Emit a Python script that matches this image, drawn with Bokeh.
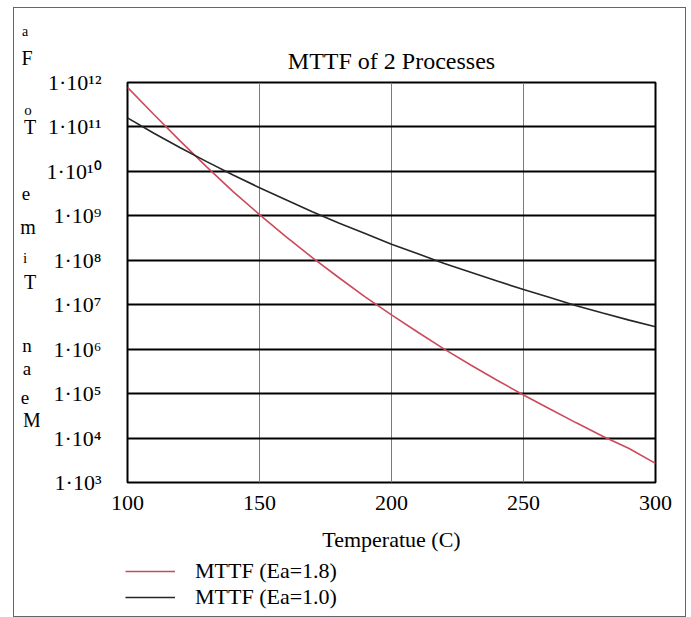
from bokeh.plotting import figure
from bokeh.layouts import row, column
from bokeh.models import (Range1d, FixedTicker, CustomJSTickFormatter, Legend, Div)
from bokeh.embed import file_html
from bokeh.resources import INLINE

# ---- data ----
temperature_c = [100, 110, 120, 130, 140, 150, 160, 170, 180, 190, 200,
                 210, 220, 230, 240, 250, 260, 270, 280, 290, 300]
mttf_ea18 = [7.8e11, 1.9e11, 4.8e10, 1.26e10, 3.5e9, 1.07e9, 3.4e8, 1.15e8,
             4.1e7, 1.5e7, 5.9e6, 2.4e6, 1.0e6, 4.4e5, 2.0e5, 9.3e4, 4.5e4,
             2.2e4, 1.1e4, 5.8e3, 2.7e3]
mttf_ea10 = [1.6e11, 7.2e10, 3.4e10, 1.66e10, 8.3e9, 4.3e9, 2.3e9, 1.23e9,
             6.9e8, 4.0e8, 2.3e8, 1.4e8, 8.5e7, 5.4e7, 3.4e7, 2.2e7, 1.45e7,
             9.5e6, 6.5e6, 4.5e6, 3.2e6]
series_names = ["MTTF (Ea=1.8)", "MTTF (Ea=1.0)"]
x_ticks = [100, 150, 200, 250, 300]
y_ticks = [1e3, 1e4, 1e5, 1e6, 1e7, 1e8, 1e9, 1e10, 1e11, 1e12]
title_text = "MTTF of 2 Processes"
x_label = "Temperatue (C)"
y_label_letters = ["a", "F", "o", "T", "e", "m", "i", "T", "n", "a", "e", "M"]

FONT = "Liberation Serif"
RED = "#cc4a5a"
DARK = "#262626"

# ---- y-label letters, stacked as in the original (layout only) ----
letter_xy = [(11, 24), (13, 50), (14, 102), (16, 119), (12, 185), (14, 219),
             (11, 250), (16, 274), (13, 337), (13, 360), (11, 389), (18, 412)]
letter_px = [14, 20, 15, 20, 19, 20, 15, 20, 19, 19, 19, 20]
spans = "".join(
    f'<span style="position:absolute;left:{lx}px;top:{ly}px;'
    f'transform:translate(-50%,-50%);font-size:{fs}px;">{ch}</span>'
    for ch, (lx, ly), fs in zip(y_label_letters, letter_xy, letter_px))
letters = Div(text=f'<div style="position:relative;width:25px;height:540px;'
                   f'font-family:\'{FONT}\';color:black;line-height:1;">{spans}</div>',
              width=25, height=546, margin=0)

# ---- main figure ----
p = figure(frame_width=528, frame_height=400,
           min_border_left=88, min_border_right=30,
           min_border_top=74, min_border_bottom=72,
           x_range=Range1d(100, 300), y_range=Range1d(1e3, 1e12),
           y_axis_type="log", output_backend="svg", toolbar_location=None,
           title=title_text, margin=0)
p.background_fill_color = "white"
p.border_fill_color = "white"
p.outline_line_color = "black"
p.outline_line_width = 2

p.title.align = "center"
p.title.text_font = FONT
p.title.text_font_style = "normal"
p.title.text_font_size = "24px"
p.title.text_color = "black"
p.title.standoff = 17

p.xaxis.ticker = FixedTicker(ticks=x_ticks)
p.yaxis.ticker = FixedTicker(ticks=y_ticks)
p.yaxis.formatter = CustomJSTickFormatter(code="""
const sup = {"0":"\u2070","1":"\u00b9","2":"\u00b2","3":"\u00b3","4":"\u2074",
             "5":"\u2075","6":"\u2076","7":"\u2077","8":"\u2078","9":"\u2079"};
const e = Math.round(Math.log10(tick));
return "1\u00b710" + String(e).split("").map(c => sup[c]).join("");
""")
for ax in (p.xaxis[0], p.yaxis[0]):
    ax.axis_line_color = None
    ax.major_tick_line_color = None
    ax.minor_tick_line_color = None
    ax.major_label_text_font = FONT
    ax.major_label_text_font_size = "22px"
    ax.major_label_text_color = "black"
p.yaxis.major_label_standoff = 20
p.xaxis.major_label_standoff = 7
p.xaxis.axis_label = x_label
p.xaxis.axis_label_text_font = FONT
p.xaxis.axis_label_text_font_style = "normal"
p.xaxis.axis_label_text_font_size = "22px"
p.xaxis.axis_label_text_color = "black"
p.xaxis.axis_label_standoff = 14

p.ygrid.grid_line_color = "black"
p.ygrid.grid_line_width = 2
p.ygrid.grid_line_alpha = 1
p.xgrid.grid_line_color = "#7f805a"
p.xgrid.grid_line_width = 1
p.xgrid.grid_line_alpha = 1

p.line(temperature_c, mttf_ea18, line_color=RED, line_width=1.6)
p.line(temperature_c, mttf_ea10, line_color=DARK, line_width=1.6)

# ---- legend strip below the plot (its own small svg figure) ----
lf = figure(frame_width=671, frame_height=62, min_border=0,
            x_range=Range1d(0, 1), y_range=Range1d(0, 1),
            output_backend="svg", toolbar_location=None, margin=0)
lf.axis.visible = False
lf.grid.visible = False
lf.outline_line_color = None
lf.background_fill_color = "white"
lf.border_fill_color = "white"
l1 = lf.line(temperature_c, mttf_ea18, line_color=RED, line_width=1.6)
l2 = lf.line(temperature_c, mttf_ea10, line_color=DARK, line_width=1.6)
for name, rend, loc in ((series_names[0], l1, (111, 32)),
                        (series_names[1], l2, (111, 6))):
    lf.add_layout(Legend(items=[(name, [rend])], location=loc,
                         margin=0, padding=0, spacing=0,
                         label_text_font=FONT, label_text_font_size="22px",
                         label_text_color="black",
                         label_standoff=20, glyph_width=50, glyph_height=26,
                         label_height=26, border_line_color=None,
                         background_fill_alpha=0))

layout = column(row(letters, p, spacing=0, margin=0), lf, spacing=0,
                margin=(7, 0, 0, 13),
                styles={"border": "1px solid #666666", "background": "white"})

open("out.html", "w").write(file_html(layout, INLINE))
